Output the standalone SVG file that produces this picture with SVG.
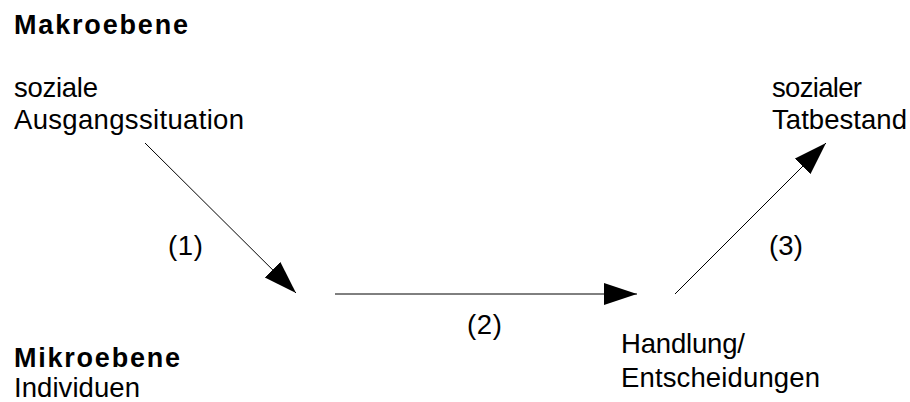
<svg xmlns="http://www.w3.org/2000/svg" width="910" height="402" viewBox="0 0 910 402">
<style>
text{font-family:"Liberation Sans",Arial,sans-serif;font-size:27.5px;fill:#000}
.b{font-weight:bold;font-size:27px}
.c{stroke:#000;stroke-width:1;fill:none}
</style>
<defs>
<marker id="ah" markerUnits="userSpaceOnUse" markerWidth="34" markerHeight="24" viewBox="0 0 34 24" refX="33" refY="12" orient="auto">
<path d="M0,1 L33,12 L0,23 z" fill="#000"/>
</marker>
</defs>
<rect width="910" height="402" fill="#fff"/>
<g id="makro"><text class="b" x="14" y="34" textLength="174" lengthAdjust="spacing">Makroebene</text></g>
<g id="ausgang"><text x="14" y="97" textLength="84" lengthAdjust="spacing">soziale</text><text x="14" y="129" textLength="230" lengthAdjust="spacing">Ausgangssituation</text></g>
<g id="tatbestand"><text x="772" y="97" textLength="90" lengthAdjust="spacing">sozialer</text><text x="772" y="129" textLength="135" lengthAdjust="spacing">Tatbestand</text></g>
<g id="handlung"><text x="621" y="353" textLength="124" lengthAdjust="spacing">Handlung/</text><text x="621" y="387" textLength="199" lengthAdjust="spacing">Entscheidungen</text></g>
<g id="mikro"><text class="b" x="14" y="367" textLength="166" lengthAdjust="spacing">Mikroebene</text><text x="14" y="397" textLength="126" lengthAdjust="spacing">Individuen</text></g>
<g id="connectors">
<line class="c" x1="145" y1="143" x2="296" y2="293" marker-end="url(#ah)"/>
<line class="c" x1="335" y1="294" x2="637" y2="294" marker-end="url(#ah)"/>
<line class="c" x1="675" y1="294" x2="826" y2="143" marker-end="url(#ah)"/>
<text x="168" y="255" textLength="35" lengthAdjust="spacing">(1)</text>
<text x="467" y="334" textLength="35" lengthAdjust="spacing">(2)</text>
<text x="769" y="255" textLength="34" lengthAdjust="spacing">(3)</text>
</g>
</svg>
